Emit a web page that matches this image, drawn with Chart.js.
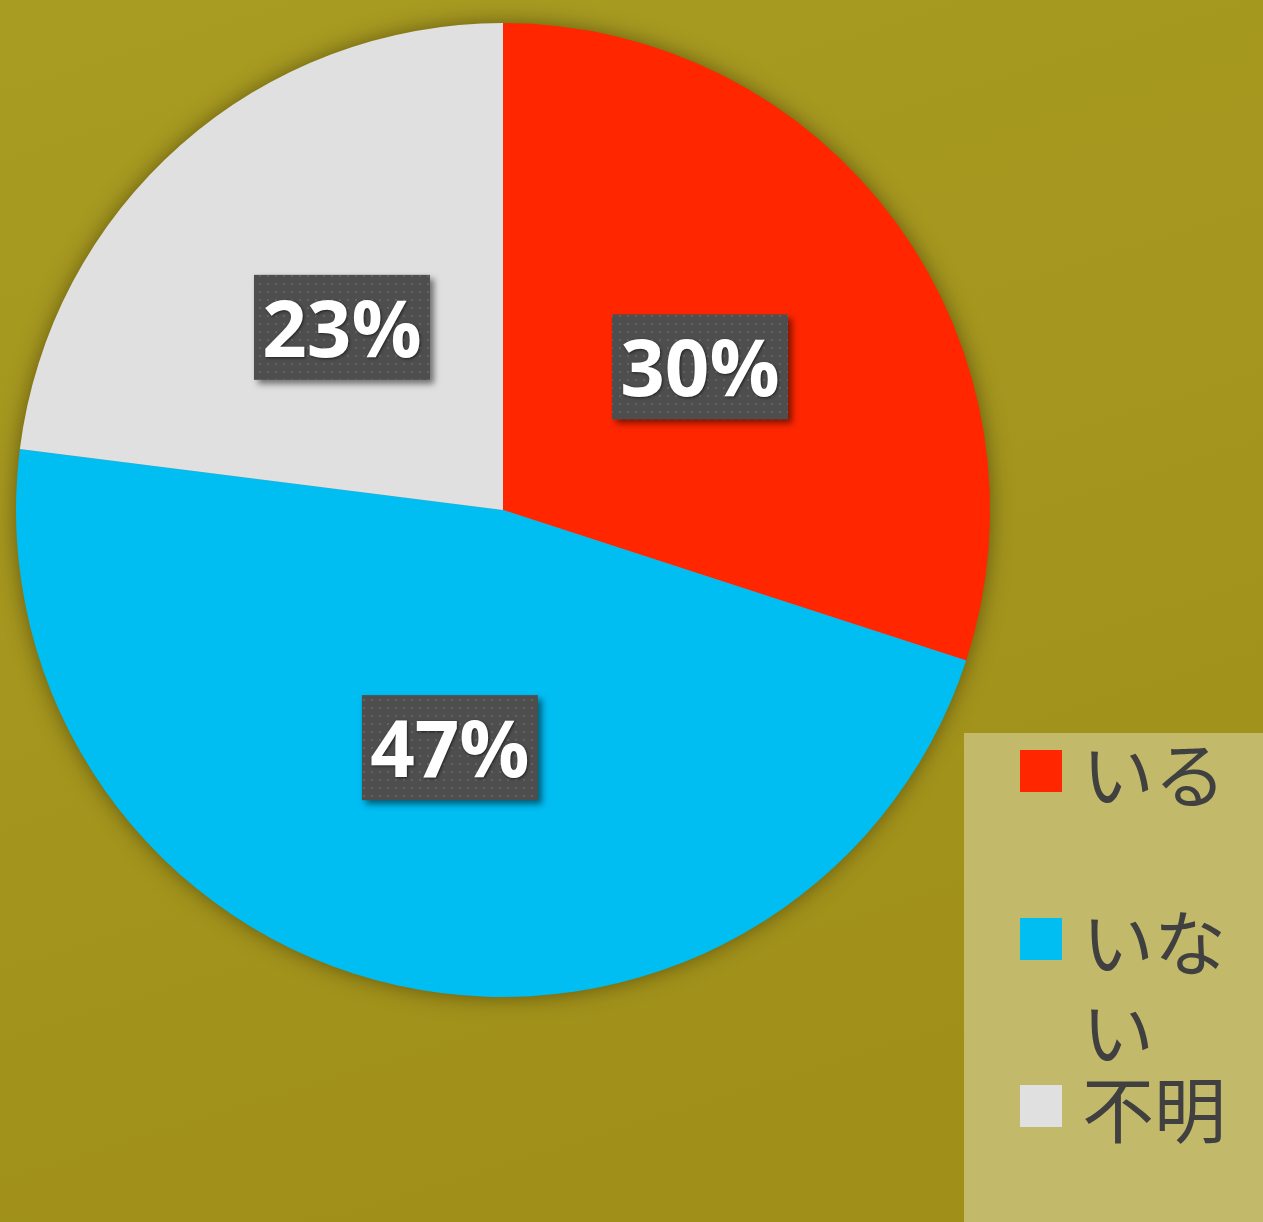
<!DOCTYPE html>
<html>
<head>
<meta charset="utf-8">
<script src="https://cdn.jsdelivr.net/npm/chart.js@4"></script>
<style>
  html, body { margin: 0; padding: 0; background: #a69a21; }
  #wrap { width: 1263px; height: 1222px; position: relative; }
</style>
</head>
<body>
<div id="wrap"><canvas id="pie" width="1263" height="1222"></canvas></div>
<script>
const labels = ['いる', 'いない', '不明'];
const values = [30, 47, 23];
const colors = ['#ff2600', '#00bdf2', '#e0e0e0'];

// dotted texture for the value boxes
function dotPattern(ctx) {
  const c = document.createElement('canvas');
  c.width = 8; c.height = 8;
  const p = c.getContext('2d');
  p.fillStyle = '#4e4e4e';
  p.fillRect(0, 0, 8, 8);
  p.fillStyle = '#626262';
  p.fillRect(3, 3, 2, 2);
  return ctx.createPattern(c, 'repeat');
}

const background = {
  id: 'background',
  beforeDraw(chart) {
    const { ctx, width, height } = chart;
    const g = ctx.createLinearGradient(0, 0, width * 0.3, height);
    g.addColorStop(0, '#a89c22');
    g.addColorStop(1, '#a0901a');
    ctx.save();
    ctx.fillStyle = g;
    ctx.fillRect(0, 0, width, height);
    ctx.restore();
  }
};

const pieShadow = {
  id: 'pieShadow',
  beforeDatasetsDraw(chart) {
    const arc = chart.getDatasetMeta(0).data[0];
    if (!arc) return;
    const { ctx } = chart;
    ctx.save();
    ctx.shadowColor = 'rgba(40,30,0,0.55)';
    ctx.shadowBlur = 22;
    ctx.fillStyle = '#888';
    ctx.beginPath();
    ctx.arc(arc.x, arc.y, arc.outerRadius - 1, 0, Math.PI * 2);
    ctx.fill();
    ctx.restore();
  }
};

const valueBoxes = {
  id: 'valueBoxes',
  afterDatasetsDraw(chart) {
    const { ctx } = chart;
    const pattern = dotPattern(ctx);
    const total = values.reduce((a, b) => a + b, 0);
    chart.getDatasetMeta(0).data.forEach((arc, i) => {
      const pos = arc.tooltipPosition();
      const w = 176, h = 105;
      const x = pos.x - w / 2, y = pos.y - h / 2;
      ctx.save();
      ctx.shadowColor = 'rgba(0,0,0,0.5)';
      ctx.shadowBlur = 6;
      ctx.shadowOffsetX = 4;
      ctx.shadowOffsetY = 4;
      ctx.fillStyle = pattern;
      ctx.fillRect(x, y, w, h);
      ctx.restore();

      ctx.save();
      ctx.font = 'bold 78px "Open Sans"';
      ctx.textAlign = 'center';
      ctx.textBaseline = 'middle';
      ctx.shadowColor = 'rgba(0,0,0,0.6)';
      ctx.shadowBlur = 3;
      ctx.shadowOffsetX = 1;
      ctx.shadowOffsetY = 1;
      ctx.fillStyle = '#ffffff';
      ctx.fillText(Math.round(values[i] / total * 100) + '%', pos.x, pos.y + 7);
      ctx.restore();
    });
  }
};

// legend panel on the lower right, long labels wrap inside the panel
const sideLegend = {
  id: 'sideLegend',
  afterDraw(chart) {
    const { ctx } = chart;
    const box = { x: 964, y: 733, w: 299, h: 489 };
    ctx.save();
    ctx.fillStyle = '#c3b96a';
    ctx.fillRect(box.x, box.y, box.w, box.h);

    const rows = [771, 939, 1106];
    const textX = 1082, maxW = box.x + box.w - textX;
    ctx.font = '72px "Noto Sans CJK JP"';
    ctx.textBaseline = 'middle';
    labels.forEach((lab, i) => {
      ctx.fillStyle = colors[i];
      ctx.fillRect(1020, rows[i] - 21, 42, 42);
      ctx.fillStyle = '#404040';
      let line = '', ly = rows[i] + 4;
      for (const ch of lab) {
        if (line && ctx.measureText(line + ch).width > maxW) {
          ctx.fillText(line, textX, ly);
          line = ch;
          ly += 90;
        } else {
          line += ch;
        }
      }
      ctx.fillText(line, textX, ly);
    });
    ctx.restore();
  }
};

new Chart(document.getElementById('pie').getContext('2d'), {
  type: 'pie',
  data: {
    labels: labels,
    datasets: [{
      data: values,
      backgroundColor: colors,
      borderWidth: 0
    }]
  },
  options: {
    responsive: false,
    animation: false,
    layout: { padding: { left: 16, right: 273, top: 23, bottom: 225 } },
    plugins: {
      legend: { display: false },
      tooltip: { enabled: false }
    }
  },
  plugins: [background, pieShadow, valueBoxes, sideLegend]
});
</script>
</body>
</html>
